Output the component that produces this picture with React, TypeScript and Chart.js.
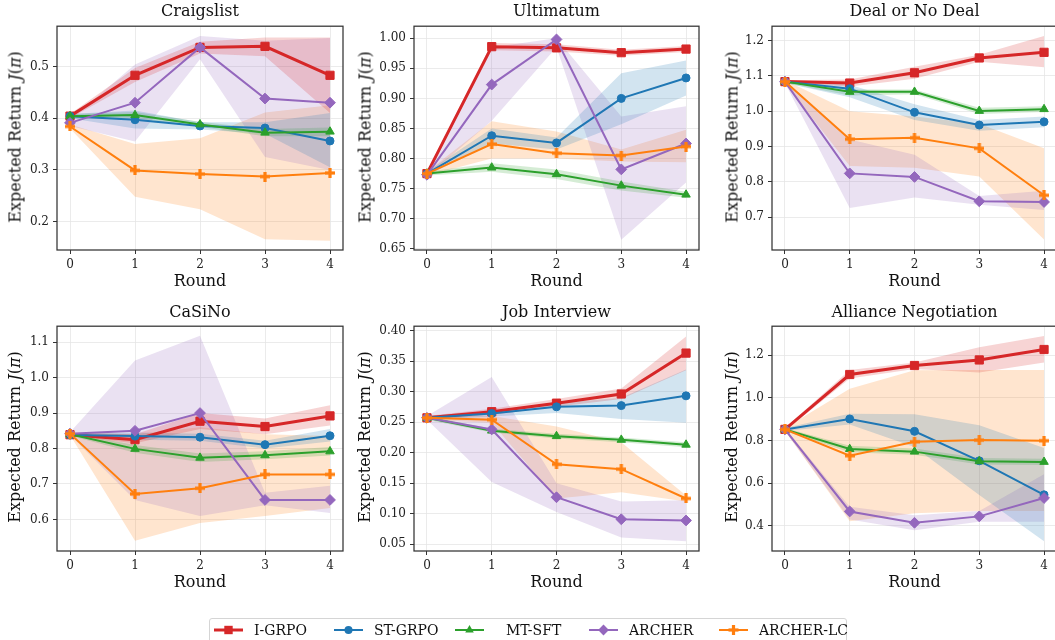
import React, { useEffect, useRef } from "react";
import { Chart, registerables } from "chart.js";

Chart.register(...registerables);

// ---------------- data ----------------
const rounds = [0, 1, 2, 3, 4];
const methods = ["I-GRPO", "ST-GRPO", "MT-SFT", "ARCHER", "ARCHER-LC"];
const taskTitles = ["Craigslist", "Ultimatum", "Deal or No Deal", "CaSiNo", "Job Interview", "Alliance Negotiation"];

// rows follow `methods`
const craigslistMean = [
  [0.404, 0.483, 0.537, 0.539, 0.483],
  [0.404, 0.397, 0.385, 0.381, 0.356],
  [0.404, 0.406, 0.388, 0.372, 0.374],
  [0.391, 0.430, 0.537, 0.438, 0.430],
  [0.384, 0.299, 0.292, 0.287, 0.294],
];
const craigslistLow = [
  [0.400, 0.470, 0.525, 0.520, 0.410],
  [0.400, 0.380, 0.378, 0.370, 0.305],
  [0.400, 0.400, 0.383, 0.365, 0.365],
  [0.385, 0.355, 0.514, 0.325, 0.300],
  [0.380, 0.248, 0.224, 0.166, 0.163],
];
const craigslistHigh = [
  [0.408, 0.497, 0.548, 0.556, 0.556],
  [0.408, 0.415, 0.392, 0.392, 0.410],
  [0.408, 0.412, 0.393, 0.379, 0.382],
  [0.397, 0.504, 0.559, 0.550, 0.555],
  [0.388, 0.350, 0.361, 0.411, 0.425],
];
const craigslistTicks = [0.2, 0.3, 0.4, 0.5];
const craigslistRange = [0.145, 0.578];

const ultimatumMean = [
  [0.775, 0.986, 0.984, 0.976, 0.982],
  [0.775, 0.838, 0.826, 0.900, 0.934],
  [0.775, 0.785, 0.774, 0.755, 0.740],
  [0.773, 0.923, 0.998, 0.782, 0.825],
  [0.775, 0.824, 0.809, 0.805, 0.820],
];
const ultimatumLow = [
  [0.772, 0.980, 0.978, 0.971, 0.977],
  [0.772, 0.825, 0.815, 0.857, 0.905],
  [0.772, 0.778, 0.766, 0.747, 0.735],
  [0.770, 0.863, 0.985, 0.665, 0.760],
  [0.772, 0.800, 0.800, 0.795, 0.794],
];
const ultimatumHigh = [
  [0.778, 0.992, 0.990, 0.981, 0.987],
  [0.778, 0.850, 0.835, 0.942, 0.963],
  [0.778, 0.792, 0.782, 0.762, 0.745],
  [0.776, 0.985, 1.000, 0.870, 0.887],
  [0.778, 0.862, 0.845, 0.815, 0.848],
];
const ultimatumTicks = [0.65, 0.7, 0.75, 0.8, 0.85, 0.9, 0.95, 1.0];
const ultimatumRange = [0.648, 1.02];

const dealMean = [
  [1.084, 1.080, 1.109, 1.151, 1.167],
  [1.084, 1.064, 0.997, 0.961, 0.970],
  [1.084, 1.055, 1.055, 1.001, 1.006],
  [1.084, 0.824, 0.814, 0.745, 0.743],
  [1.084, 0.921, 0.925, 0.895, 0.762],
];
const dealLow = [
  [1.080, 1.070, 1.092, 1.140, 1.125],
  [1.080, 1.040, 0.975, 0.945, 0.955],
  [1.080, 1.045, 1.048, 0.992, 0.998],
  [1.080, 0.726, 0.756, 0.735, 0.720],
  [1.080, 0.845, 0.840, 0.815, 0.637],
];
const dealHigh = [
  [1.088, 1.090, 1.126, 1.160, 1.213],
  [1.088, 1.075, 1.020, 0.975, 0.985],
  [1.088, 1.062, 1.062, 1.010, 1.014],
  [1.088, 0.920, 0.877, 0.760, 0.775],
  [1.088, 1.000, 0.985, 0.965, 0.895],
];
const dealTicks = [0.7, 0.8, 0.9, 1.0, 1.1, 1.2];
const dealRange = [0.607, 1.241];

const casinoMean = [
  [0.839, 0.825, 0.877, 0.862, 0.892],
  [0.838, 0.835, 0.832, 0.811, 0.836],
  [0.840, 0.799, 0.774, 0.781, 0.792],
  [0.842, 0.850, 0.900, 0.655, 0.655],
  [0.842, 0.672, 0.688, 0.727, 0.727],
];
const casinoLow = [
  [0.835, 0.815, 0.855, 0.840, 0.865],
  [0.834, 0.825, 0.822, 0.800, 0.820],
  [0.836, 0.788, 0.762, 0.770, 0.780],
  [0.838, 0.655, 0.610, 0.640, 0.618],
  [0.838, 0.540, 0.590, 0.610, 0.632],
];
const casinoHigh = [
  [0.843, 0.840, 0.900, 0.885, 0.922],
  [0.842, 0.845, 0.842, 0.822, 0.855],
  [0.844, 0.810, 0.786, 0.792, 0.804],
  [0.846, 1.048, 1.118, 0.675, 0.695],
  [0.846, 0.840, 0.860, 0.840, 0.835],
];
const casinoTicks = [0.6, 0.7, 0.8, 0.9, 1.0, 1.1];
const casinoRange = [0.511, 1.145];

const jobMean = [
  [0.257, 0.267, 0.281, 0.296, 0.363],
  [0.257, 0.264, 0.275, 0.277, 0.293],
  [0.257, 0.236, 0.227, 0.221, 0.213],
  [0.257, 0.238, 0.127, 0.091, 0.089],
  [0.257, 0.254, 0.181, 0.173, 0.125],
];
const jobLow = [
  [0.254, 0.262, 0.275, 0.288, 0.335],
  [0.254, 0.259, 0.265, 0.255, 0.249],
  [0.254, 0.233, 0.223, 0.217, 0.209],
  [0.254, 0.152, 0.103, 0.061, 0.055],
  [0.254, 0.249, 0.125, 0.135, 0.120],
];
const jobHigh = [
  [0.260, 0.272, 0.288, 0.305, 0.390],
  [0.260, 0.268, 0.281, 0.290, 0.336],
  [0.260, 0.239, 0.231, 0.225, 0.217],
  [0.260, 0.324, 0.150, 0.120, 0.122],
  [0.260, 0.260, 0.243, 0.217, 0.130],
];
const jobTicks = [0.05, 0.1, 0.15, 0.2, 0.25, 0.3, 0.35, 0.4];
const jobRange = [0.039, 0.407];

const allianceMean = [
  [0.852, 1.109, 1.151, 1.177, 1.226],
  [0.852, 0.901, 0.843, 0.705, 0.546],
  [0.852, 0.760, 0.748, 0.703, 0.700],
  [0.852, 0.468, 0.415, 0.445, 0.531],
  [0.852, 0.729, 0.794, 0.802, 0.799],
];
const allianceLow = [
  [0.845, 1.090, 1.135, 1.118, 1.165],
  [0.845, 0.875, 0.770, 0.545, 0.329],
  [0.845, 0.745, 0.733, 0.688, 0.685],
  [0.845, 0.430, 0.380, 0.420, 0.420],
  [0.845, 0.422, 0.460, 0.470, 0.470],
];
const allianceHigh = [
  [0.859, 1.130, 1.165, 1.237, 1.289],
  [0.859, 0.925, 0.923, 0.872, 0.765],
  [0.859, 0.775, 0.763, 0.718, 0.715],
  [0.859, 0.490, 0.450, 0.470, 0.642],
  [0.859, 1.042, 1.129, 1.130, 1.130],
];
const allianceTicks = [0.4, 0.6, 0.8, 1.0, 1.2];
const allianceRange = [0.283, 1.335];

// ---------------- styles ----------------
const colors = ["#d62728", "#1f77b4", "#2ca02c", "#9467bd", "#ff7f0e"];
const bandColors = [
  "rgba(214,39,40,0.2)",
  "rgba(31,119,180,0.2)",
  "rgba(44,160,44,0.2)",
  "rgba(148,103,189,0.2)",
  "rgba(255,127,14,0.2)",
];
const lineWidths = [3, 2, 2, 2, 2];
const pointRadii = [5.8, 4.0, 4.9, 5.4, 5];

const FONT = "'DejaVu Serif', serif";

const panels = [
  { mean: craigslistMean, low: craigslistLow, high: craigslistHigh, ticks: craigslistTicks, range: craigslistRange, dec: 1 },
  { mean: ultimatumMean, low: ultimatumLow, high: ultimatumHigh, ticks: ultimatumTicks, range: ultimatumRange, dec: 2 },
  { mean: dealMean, low: dealLow, high: dealHigh, ticks: dealTicks, range: dealRange, dec: 1 },
  { mean: casinoMean, low: casinoLow, high: casinoHigh, ticks: casinoTicks, range: casinoRange, dec: 1 },
  { mean: jobMean, low: jobLow, high: jobHigh, ticks: jobTicks, range: jobRange, dec: 2 },
  { mean: allianceMean, low: allianceLow, high: allianceHigh, ticks: allianceTicks, range: allianceRange, dec: 1 },
];

// layout (pixels)
const colLeft = [57, 414, 772];
const colRight = [343, 699, 1057];
const rowTop = [23, 323];
const rowBottom = [250, 551];
const titleTop = [1, 302];
const roundTop = [271, 572];
const ylabelCenterX = [15, 365, 732];
const AXW = 55;
const AXH = 30;
const PADT = 8;
const PADR = 10;

function makePlus(color: string) {
  const c = document.createElement("canvas");
  c.width = 10;
  c.height = 10;
  const g = c.getContext("2d")!;
  g.fillStyle = color;
  g.fillRect(3.4, 0, 3.2, 10);
  g.fillRect(0, 3.4, 10, 3.2);
  return c;
}

const framePlugin = {
  id: "frame",
  afterDatasetsDraw(chart: any) {
    const { ctx, chartArea } = chart;
    ctx.save();
    ctx.strokeStyle = "#333";
    ctx.lineWidth = 1.25;
    ctx.strokeRect(chartArea.left, chartArea.top, chartArea.right - chartArea.left, chartArea.bottom - chartArea.top);
    ctx.restore();
  },
};

function Panel({ index }: { index: number }) {
  const ref = useRef<HTMLCanvasElement>(null);
  const p = panels[index];
  const col = index % 3;
  const row = Math.floor(index / 3);
  const left = colLeft[col] - AXW;
  const top = rowTop[row] - PADT;
  const width = colRight[col] - colLeft[col] + AXW + PADR;
  const height = rowBottom[row] - rowTop[row] + PADT + AXH;

  useEffect(() => {
    const plus = makePlus(colors[4]);
    const styles: any[] = ["rect", "circle", "triangle", "rectRot", plus];
    const lineSets = methods.map((m, i) => ({
      label: m,
      data: rounds.map((r, j) => ({ x: r, y: p.mean[i][j] })),
      borderColor: colors[i],
      backgroundColor: colors[i],
      borderWidth: lineWidths[i],
      pointStyle: styles[i],
      pointRadius: pointRadii[i],
      pointBackgroundColor: colors[i],
      pointBorderColor: colors[i],
      pointBorderWidth: 1,
      fill: false,
      tension: 0,
      order: 4 - i,
    }));
    const bandSets: any[] = [];
    methods.forEach((m, i) => {
      bandSets.push({
        label: m + " hi",
        data: rounds.map((r, j) => ({ x: r, y: p.high[i][j] })),
        borderWidth: 0,
        borderColor: "rgba(0,0,0,0)",
        pointRadius: 0,
        backgroundColor: bandColors[i],
        fill: "+1",
        order: 20,
      });
      bandSets.push({
        label: m + " lo",
        data: rounds.map((r, j) => ({ x: r, y: p.low[i][j] })),
        borderWidth: 0,
        borderColor: "rgba(0,0,0,0)",
        pointRadius: 0,
        backgroundColor: "rgba(0,0,0,0)",
        fill: false,
        order: 20,
      });
    });

    const tickFont = { family: FONT, size: 12 };
    const grid = {
      color: "#e6e6e6",
      lineWidth: 0.8,
      tickColor: "#333",
      tickLength: 4,
      tickWidth: 1,
    };
    const chart = new Chart(ref.current!, {
      type: "line",
      data: { datasets: [...lineSets, ...bandSets] as any },
      plugins: [framePlugin],
      options: {
        animation: false,
        responsive: false,
        devicePixelRatio: 1,
        layout: { padding: { left: 0, top: PADT, right: PADR, bottom: 0 } },
        plugins: { legend: { display: false }, tooltip: { enabled: false }, title: { display: false } },
        scales: {
          x: {
            type: "linear",
            min: -0.2,
            max: 4.2,
            afterBuildTicks: (s: any) => {
              s.ticks = rounds.map((v) => ({ value: v }));
            },
            afterFit: (s: any) => {
              s.height = AXH;
            },
            ticks: { font: tickFont, color: "#222", padding: 4, maxRotation: 0, autoSkip: false, callback: (v: any) => String(v) },
            grid,
            border: { display: false },
          },
          y: {
            type: "linear",
            min: p.range[0],
            max: p.range[1],
            afterBuildTicks: (s: any) => {
              s.ticks = p.ticks.map((v) => ({ value: v }));
            },
            afterFit: (s: any) => {
              s.width = AXW;
            },
            ticks: { font: tickFont, color: "#222", padding: 4, autoSkip: false, callback: (v: any) => Number(v).toFixed(p.dec) },
            grid,
            border: { display: false },
          },
        },
      } as any,
    });
    return () => chart.destroy();
  }, [index]);

  const boxW = colRight[col] - colLeft[col];
  const boxH = rowBottom[row] - rowTop[row];
  const cy = (rowTop[row] + rowBottom[row]) / 2;
  const cx = ylabelCenterX[col];
  const textBase: React.CSSProperties = {
    position: "absolute",
    fontFamily: FONT,
    fontSize: 16,
    lineHeight: "20px",
    height: 20,
    textAlign: "center",
    whiteSpace: "nowrap",
    color: "#111",
  };
  return (
    <>
      <canvas
        ref={ref}
        width={width}
        height={height}
        style={{ position: "absolute", left, top, width, height }}
      />
      <div style={{ ...textBase, left: colLeft[col], top: titleTop[row], width: boxW }}>{taskTitles[index]}</div>
      <div style={{ ...textBase, left: colLeft[col], top: roundTop[row], width: boxW }}>Round</div>
      <div
        style={{
          ...textBase,
          left: cx - boxH / 2,
          top: cy - 10,
          width: boxH,
          transform: "rotate(-90deg)",
        }}
      >
        Expected Return <i>J</i>(<i>π</i>)
      </div>
    </>
  );
}

const legendLineX = [214, 334, 455, 589, 719];
const legendTextX = [254, 374, 506, 629, 759];
const LEG_Y = 630;

function LegendMarker({ i, x }: { i: number; x: number }) {
  const c = colors[i];
  const cx = x + 14.5;
  const cy = LEG_Y;
  let marker: React.ReactNode = null;
  if (i === 0) marker = <rect x={cx - 4.2} y={cy - 4.2} width={8.4} height={8.4} fill={c} />;
  if (i === 1) marker = <circle cx={cx} cy={cy} r={4} fill={c} />;
  if (i === 2) marker = <polygon points={`${cx},${cy - 4.9} ${cx + 4.3},${cy + 2.5} ${cx - 4.3},${cy + 2.5}`} fill={c} />;
  if (i === 3) marker = <polygon points={`${cx},${cy - 5.4} ${cx + 5.4},${cy} ${cx},${cy + 5.4} ${cx - 5.4},${cy}`} fill={c} />;
  if (i === 4)
    marker = (
      <g fill={c}>
        <rect x={cx - 1.6} y={cy - 5} width={3.2} height={10} />
        <rect x={cx - 5} y={cy - 1.6} width={10} height={3.2} />
      </g>
    );
  return (
    <g>
      <line x1={x} y1={cy} x2={x + 29} y2={cy} stroke={c} strokeWidth={lineWidths[i]} />
      {marker}
    </g>
  );
}

function Legend() {
  return (
    <>
      <div
        style={{
          position: "absolute",
          left: 209,
          top: 618,
          width: 638,
          height: 30,
          border: "1px solid #d5d5d5",
          borderRadius: 3,
          background: "#fff",
          boxSizing: "border-box",
        }}
      />
      <svg style={{ position: "absolute", left: 0, top: 0 }} width={1055} height={640}>
        {methods.map((m, i) => (
          <LegendMarker key={m} i={i} x={legendLineX[i]} />
        ))}
      </svg>
      {methods.map((m, i) => (
        <div
          key={m}
          style={{
            position: "absolute",
            left: legendTextX[i],
            top: LEG_Y - 9,
            height: 18,
            lineHeight: "18px",
            fontFamily: FONT,
            fontSize: 14,
            color: "#111",
            whiteSpace: "nowrap",
          }}
        >
          {m}
        </div>
      ))}
    </>
  );
}

export default function App() {
  return (
    <div
      style={{
        position: "absolute",
        left: 0,
        top: 0,
        width: 1055,
        height: 640,
        overflow: "hidden",
        background: "#fff",
      }}
    >
      {panels.map((_, i) => (
        <Panel key={i} index={i} />
      ))}
      <Legend />
    </div>
  );
}
